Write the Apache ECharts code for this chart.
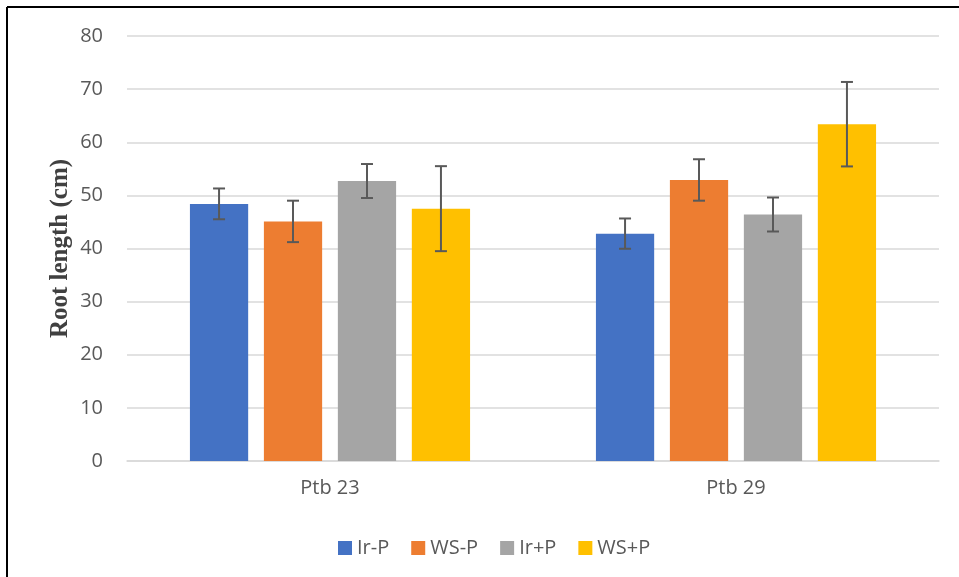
<!DOCTYPE html>
<html>
<head>
<meta charset="utf-8">
<script src="https://cdn.jsdelivr.net/npm/echarts@6/dist/echarts.min.js"></script>
<style>html,body{margin:0;padding:0;background:#fff}#c{width:959px;height:577px}</style>
</head>
<body>
<div id="c"></div>
<script>
const categories = ['Ptb 23', 'Ptb 29'];
const seriesNames = ['Ir-P', 'WS-P', 'Ir+P', 'WS+P'];
const colors = ['#4472C4', '#ED7D31', '#A5A5A5', '#FFC000'];
const irMinusP = [48.4, 42.8];
const wsMinusP = [45.1, 52.9];
const irPlusP = [52.7, 46.4];
const wsPlusP = [47.5, 63.4];
const errIrMinusP = [2.9, 2.85];
const errWsMinusP = [3.9, 3.9];
const errIrPlusP = [3.2, 3.2];
const errWsPlusP = [8.0, 7.95];
const yTicks = [0, 10, 20, 30, 40, 50, 60, 70, 80];

const values = [irMinusP, wsMinusP, irPlusP, wsPlusP];
const errors = [errIrMinusP, errWsMinusP, errIrPlusP, errWsPlusP];

const chart = echarts.init(document.getElementById('c'));
const gridLeft = 127, gridRight = 20, gridTop = 36, gridBottom = 116;
const nSeries = 4;
const barCategoryGap = 0.31;
const barGapRatio = 0.27;

function errorRender(si) {
  return function (params, api) {
    const ci = api.value(0);
    const mean = api.value(1);
    const err = api.value(2);
    const catW = api.size([1, 0])[0];
    const groupW = catW * (1 - barCategoryGap);
    const barW = groupW / (nSeries + (nSeries - 1) * barGapRatio);
    const center = api.coord([ci, 0])[0];
    const x = center - groupW / 2 + si * barW * (1 + barGapRatio) + barW / 2;
    const top = api.coord([ci, mean + err])[1];
    const bot = api.coord([ci, mean - err])[1];
    const cap = 6;
    const style = { stroke: '#595959', lineWidth: 2 };
    return {
      type: 'group',
      children: [
        { type: 'line', shape: { x1: x, y1: top, x2: x, y2: bot }, style },
        { type: 'line', shape: { x1: x - cap, y1: top, x2: x + cap, y2: top }, style },
        { type: 'line', shape: { x1: x - cap, y1: bot, x2: x + cap, y2: bot }, style }
      ]
    };
  };
}

const series = [];
seriesNames.forEach((name, si) => {
  series.push({
    name: name,
    type: 'bar',
    data: values[si],
    itemStyle: { color: colors[si] },
    barGap: (barGapRatio * 100) + '%',
    barCategoryGap: (barCategoryGap * 100) + '%',
    emphasis: { disabled: true }
  });
});
seriesNames.forEach((name, si) => {
  series.push({
    type: 'custom',
    name: name + ' err',
    renderItem: errorRender(si),
    data: categories.map((c, ci) => [ci, values[si][ci], errors[si][ci]]),
    z: 10,
    silent: true,
    encode: { x: 0, y: 1 }
  });
});

chart.setOption({
  animation: false,
  backgroundColor: '#fff',
  textStyle: { fontFamily: 'Open Sans, Noto Sans, sans-serif' },
  graphic: [
    { type: 'line', shape: { x1: 7, y1: 7, x2: 959, y2: 7 }, style: { stroke: '#000', lineWidth: 2 } },
    { type: 'line', shape: { x1: 7, y1: 7, x2: 7, y2: 577 }, style: { stroke: '#000', lineWidth: 2 } }
  ],
  legend: {
    data: seriesNames,
    top: 533,
    left: 333,
    itemWidth: 14,
    itemHeight: 14,
    itemGap: 22,
    icon: 'rect',
    textStyle: { color: '#595959', fontSize: 20, fontFamily: 'Open Sans, sans-serif' }
  },
  grid: { left: gridLeft, right: gridRight, top: gridTop, bottom: gridBottom, containLabel: false },
  xAxis: {
    type: 'category',
    data: categories,
    axisLine: { lineStyle: { color: '#D9D9D9', width: 1.5 } },
    axisTick: { show: false },
    axisLabel: { color: '#595959', fontSize: 20, margin: 17, fontFamily: 'Open Sans, sans-serif' }
  },
  yAxis: {
    type: 'value',
    min: yTicks[0],
    max: yTicks[yTicks.length - 1],
    interval: 10,
    name: 'Root length (cm)',
    nameLocation: 'middle',
    nameGap: 54,
    nameMoveOverlap: false,
    nameTextStyle: { fontFamily: 'Liberation Serif, Times New Roman, serif', fontWeight: 'bold', fontSize: 25, color: '#404040' },
    axisLine: { show: false },
    axisTick: { show: false },
    axisLabel: { color: '#595959', fontSize: 20, margin: 24, fontFamily: 'Open Sans, sans-serif' },
    splitLine: { lineStyle: { color: '#D9D9D9', width: 1.5 } }
  },
  series: series
});
</script>
</body>
</html>
